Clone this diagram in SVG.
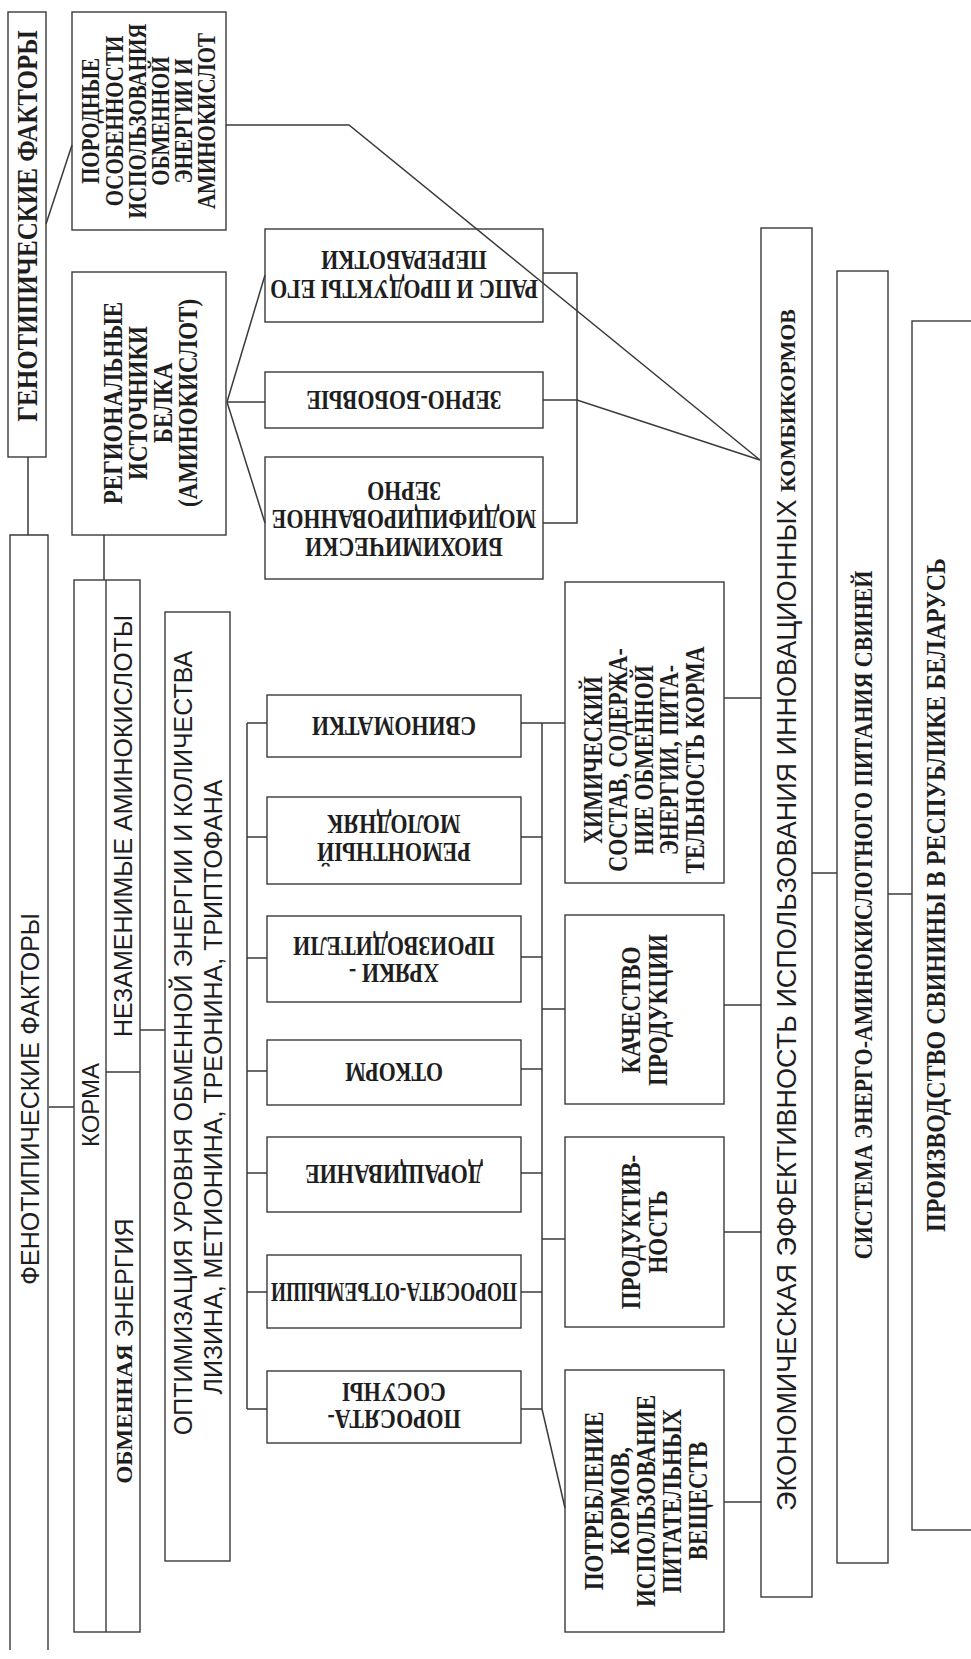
<svg xmlns="http://www.w3.org/2000/svg" width="971" height="1659" viewBox="0 0 971 1659">
<style>
.box{fill:none;stroke:#3a3a3a;stroke-width:1.4}
.ln{fill:none;stroke:#3a3a3a;stroke-width:1.5}
text{text-anchor:middle;dominant-baseline:central;fill:#1e1e1e}
.sb{font-family:"Liberation Serif","Times New Roman",serif;font-weight:bold}
.ss{font-family:"Liberation Sans",Arial,sans-serif;font-weight:normal}
</style>
<rect width="971" height="1659" fill="#ffffff"/>

<g id="connectors">
<line class="ln" x1="28" y1="457" x2="28" y2="535"/>
<line class="ln" x1="46" y1="224" x2="72" y2="145"/>
<polyline class="ln" points="226,125 349,125 760,460"/>
<polyline class="ln" points="543,400 577,400 760,460"/>
<polyline class="ln" points="543,273 577,273 577,523 543,523"/>
<line class="ln" x1="227" y1="402" x2="265" y2="402"/>
<line class="ln" x1="227" y1="402" x2="265" y2="275"/>
<line class="ln" x1="227" y1="402" x2="265" y2="523"/>
<line class="ln" x1="104" y1="535" x2="104" y2="580"/>
<line class="ln" x1="49" y1="1107" x2="74" y2="1107"/>
<line class="ln" x1="140" y1="1030" x2="165" y2="1030"/>
<line class="ln" x1="247" y1="723" x2="247" y2="1409"/>
<line class="ln" x1="247" y1="723" x2="267" y2="723"/>
<line class="ln" x1="247" y1="837" x2="267" y2="837"/>
<line class="ln" x1="247" y1="958" x2="267" y2="958"/>
<line class="ln" x1="247" y1="1071" x2="267" y2="1071"/>
<line class="ln" x1="247" y1="1173" x2="267" y2="1173"/>
<line class="ln" x1="247" y1="1292" x2="267" y2="1292"/>
<line class="ln" x1="247" y1="1409" x2="267" y2="1409"/>
<line class="ln" x1="542" y1="723" x2="542" y2="1409"/>
<line class="ln" x1="521" y1="723" x2="565" y2="723"/>
<line class="ln" x1="521" y1="837" x2="542" y2="837"/>
<line class="ln" x1="521" y1="957" x2="542" y2="957"/>
<line class="ln" x1="521" y1="1069" x2="542" y2="1069"/>
<line class="ln" x1="521" y1="1173" x2="542" y2="1173"/>
<line class="ln" x1="521" y1="1292" x2="542" y2="1292"/>
<line class="ln" x1="521" y1="1409" x2="542" y2="1409"/>
<line class="ln" x1="542" y1="1009" x2="565" y2="1009"/>
<line class="ln" x1="542" y1="1239" x2="565" y2="1239"/>
<line class="ln" x1="542" y1="1409" x2="565" y2="1508"/>
<line class="ln" x1="724" y1="698" x2="761" y2="698"/>
<line class="ln" x1="724" y1="1005" x2="761" y2="1005"/>
<line class="ln" x1="724" y1="1232" x2="761" y2="1232"/>
<line class="ln" x1="724" y1="1502" x2="761" y2="1502"/>
<line class="ln" x1="812" y1="873" x2="837" y2="873"/>
<line class="ln" x1="888" y1="894" x2="912" y2="894"/>
</g>

<g id="genotype">
<rect class="box" x="8" y="12" width="38" height="445"/>
<text class="sb" font-size="25" transform="translate(27,226) rotate(-90) scale(1,1.15)">ГЕНОТИПИЧЕСКИЕ ФАКТОРЫ</text>
</g>

<g id="phenotype">
<path class="box" d="M10,1650 V535 H48 V1650"/>
<text class="ss" font-size="25" transform="translate(30,1099) rotate(-90)">ФЕНОТИПИЧЕСКИЕ ФАКТОРЫ</text>
</g>

<g id="breed">
<rect class="box" x="72" y="12" width="154" height="218"/>
<text class="sb" font-size="21" transform="translate(149,121) rotate(-90) scale(1,1.2)"><tspan x="0" y="-49.2">ПОРОДНЫЕ</tspan><tspan x="0" y="-29.2">ОСОБЕННОСТИ</tspan><tspan x="0" y="-10">ИСПОЛЬЗОВАНИЯ</tspan><tspan x="0" y="9.2">ОБМЕННОЙ</tspan><tspan x="0" y="28.3">ЭНЕРГИИ И</tspan><tspan x="0" y="47.5">АМИНОКИСЛОТ</tspan></text>
</g>

<g id="regional">
<rect class="box" x="72" y="272" width="154" height="263"/>
<text class="sb" font-size="23" transform="translate(149,403) rotate(-90) scale(1,1.2)"><tspan x="0" y="-30.8">РЕГИОНАЛЬНЫЕ</tspan><tspan x="0" y="-10">ИСТОЧНИКИ</tspan><tspan x="0" y="10.8">БЕЛКА</tspan><tspan x="0" y="31.7">(АМИНОКИСЛОТ)</tspan></text>
</g>

<g id="rapeseed">
<rect class="box" x="265" y="229" width="278" height="93"/>
<text class="sb" font-size="22" transform="translate(404,275) rotate(180) scale(1,1.2)"><tspan x="0" y="-12">РАПС И ПРОДУКТЫ ЕГО</tspan><tspan x="0" y="12">ПЕРЕРАБОТКИ</tspan></text>
</g>

<g id="legumes">
<rect class="box" x="265" y="372" width="278" height="56"/>
<text class="sb" font-size="22" transform="translate(404,400) rotate(180) scale(1,1.2)">ЗЕРНО-БОБОВЫЕ</text>
</g>

<g id="biochem">
<rect class="box" x="265" y="457" width="278" height="122"/>
<text class="sb" font-size="22" transform="translate(404,520) rotate(180) scale(1,1.2)"><tspan x="0" y="-23.3">БИОХИМИЧЕСКИ</tspan><tspan x="0" y="0">МОДИФИЦИРОВАННОЕ</tspan><tspan x="0" y="23.3">ЗЕРНО</tspan></text>
</g>

<g id="feeds">
<rect class="box" x="74" y="580" width="66" height="1052"/>
<line class="box" x1="106" y1="580" x2="106" y2="1632"/>
<line class="box" x1="106" y1="1072" x2="140" y2="1072"/>
<text class="ss" font-size="24" transform="translate(90,1105) rotate(-90)">КОРМА</text>
<text class="ss" font-size="25" transform="translate(123,826) rotate(-90)">НЕЗАМЕНИМЫЕ АМИНОКИСЛОТЫ</text>
<text font-size="25" transform="translate(124,1351) rotate(-90)"><tspan class="sb" font-size="23">ОБМЕННАЯ</tspan><tspan class="ss"> ЭНЕРГИЯ</tspan></text>
</g>

<g id="optimization">
<rect class="box" x="165" y="612" width="65" height="949"/>
<text class="ss" font-size="25" transform="translate(183,1043) rotate(-90)">ОПТИМИЗАЦИЯ УРОВНЯ ОБМЕННОЙ ЭНЕРГИИ И КОЛИЧЕСТВА</text>
<text class="ss" font-size="25" transform="translate(213,1087) rotate(-90)">ЛИЗИНА, МЕТИОНИНА, ТРЕОНИНА, ТРИПТОФАНА</text>
</g>

<g id="sows">
<rect class="box" x="267" y="695" width="254" height="62"/>
<text class="sb" font-size="22" transform="translate(394,726) rotate(180) scale(1,1.2)">СВИНОМАТКИ</text>
</g>
<g id="replacement">
<rect class="box" x="267" y="797" width="254" height="87"/>
<text class="sb" font-size="22" transform="translate(394,840) rotate(180) scale(1,1.2)"><tspan x="0" y="-10.5">РЕМОНТНЫЙ</tspan><tspan x="0" y="12.5">МОЛОДНЯК</tspan></text>
</g>
<g id="boars">
<rect class="box" x="267" y="916" width="254" height="86"/>
<text class="sb" font-size="22" transform="translate(394,959) rotate(180) scale(1,1.2)"><tspan x="0" y="-12.5">ХРЯКИ -</tspan><tspan x="0" y="10">ПРОИЗВОДИТЕЛИ</tspan></text>
</g>
<g id="fattening">
<rect class="box" x="267" y="1040" width="254" height="65"/>
<text class="sb" font-size="22" transform="translate(394,1072) rotate(180) scale(1,1.2)">ОТКОРМ</text>
</g>
<g id="growing">
<rect class="box" x="267" y="1137" width="254" height="75"/>
<text class="sb" font-size="22" transform="translate(394,1174) rotate(180) scale(1,1.2)">ДОРАЩИВАНИЕ</text>
</g>
<g id="weaners">
<rect class="box" x="267" y="1255" width="254" height="73"/>
<text class="sb" font-size="22" textLength="246" lengthAdjust="spacingAndGlyphs" transform="translate(394,1292) rotate(180) scale(1,1.2)">ПОРОСЯТА-ОТЪЕМЫШИ</text>
</g>
<g id="suckling">
<rect class="box" x="267" y="1371" width="254" height="72"/>
<text class="sb" font-size="22" transform="translate(394,1407) rotate(180) scale(1,1.2)"><tspan x="0" y="-10.8">ПОРОСЯТА-</tspan><tspan x="0" y="11.7">СОСУНЫ</tspan></text>
</g>

<g id="composition">
<rect class="box" x="565" y="582" width="159" height="301"/>
<text class="sb" font-size="22" transform="translate(643,760) rotate(-90) scale(1,1.2)"><tspan x="0" y="-42.5">ХИМИЧЕСКИЙ</tspan><tspan x="0" y="-21.7">СОСТАВ, СОДЕРЖА-</tspan><tspan x="0" y="0">НИЕ ОБМЕННОЙ</tspan><tspan x="0" y="20.8">ЭНЕРГИИ, ПИТА-</tspan><tspan x="0" y="42.5">ТЕЛЬНОСТЬ КОРМА</tspan></text>
</g>
<g id="quality">
<rect class="box" x="565" y="915" width="159" height="189"/>
<text class="sb" font-size="23" transform="translate(643,1010) rotate(-90) scale(1,1.2)"><tspan x="0" y="-10.8">КАЧЕСТВО</tspan><tspan x="0" y="11.7">ПРОДУКЦИИ</tspan></text>
</g>
<g id="productivity">
<rect class="box" x="565" y="1137" width="159" height="190"/>
<text class="sb" font-size="23" transform="translate(643,1232) rotate(-90) scale(1,1.2)"><tspan x="0" y="-10.8">ПРОДУКТИВ-</tspan><tspan x="0" y="11.7">НОСТЬ</tspan></text>
</g>
<g id="consumption">
<rect class="box" x="565" y="1370" width="159" height="262"/>
<text class="sb" font-size="23" transform="translate(645,1501) rotate(-90) scale(1,1.2)"><tspan x="0" y="-43.3">ПОТРЕБЛЕНИЕ</tspan><tspan x="0" y="-21.7">КОРМОВ,</tspan><tspan x="0" y="0">ИСПОЛЬЗОВАНИЕ</tspan><tspan x="0" y="21.7">ПИТАТЕЛЬНЫХ</tspan><tspan x="0" y="43.3">ВЕЩЕСТВ</tspan></text>
</g>

<g id="economic">
<rect class="box" x="761" y="228" width="51" height="1369"/>
<text font-size="27" transform="translate(787,910) rotate(-90)"><tspan class="ss">ЭКОНОМИЧЕСКАЯ ЭФФЕКТИВНОСТЬ ИСПОЛЬЗОВАНИЯ ИННОВАЦИОННЫХ </tspan><tspan class="sb" font-size="22">КОМБИКОРМОВ</tspan></text>
</g>

<g id="system">
<rect class="box" x="837" y="271" width="51" height="1292"/>
<text class="sb" font-size="22" transform="translate(863,915) rotate(-90) scale(1,1.15)">СИСТЕМА ЭНЕРГО-АМИНОКИСЛОТНОГО ПИТАНИЯ СВИНЕЙ</text>
</g>

<g id="production">
<rect class="box" x="912" y="321" width="100" height="1209"/>
<text class="sb" font-size="24" transform="translate(936,895) rotate(-90) scale(1,1.15)">ПРОИЗВОДСТВО СВИНИНЫ В РЕСПУБЛИКЕ БЕЛАРУСЬ</text>
</g>
</svg>
